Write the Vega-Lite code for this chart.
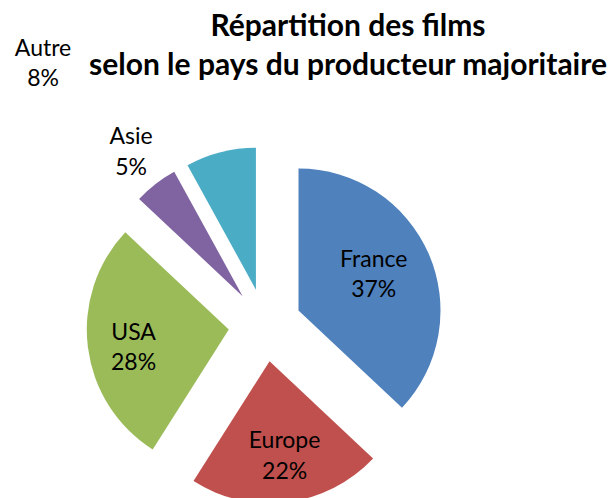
{
  "$schema": "https://vega.github.io/schema/vega-lite/v6.json",
  "width": 284,
  "height": 284,
  "autosize": {"type": "none"},
  "padding": {"left": 123, "top": 183, "right": 205, "bottom": 31},
  "background": "white",
  "config": {"view": {"stroke": null}},
  "title": {
    "text": ["Répartition des films", "selon le pays du producteur majoritaire"],
    "font": "Lato",
    "fontSize": 30,
    "fontWeight": "bold",
    "color": "#000000",
    "lineHeight": 39,
    "anchor": "middle",
    "frame": "group",
    "dx": 83,
    "baseline": "alphabetic",
    "offset": -67
  },
  "data": {
    "values": [
      {"pays": "France", "share": 37, "rang": 1},
      {"pays": "Europe", "share": 22, "rang": 2},
      {"pays": "USA", "share": 28, "rang": 3},
      {"pays": "Asie", "share": 5, "rang": 4},
      {"pays": "Autre", "share": 8, "rang": 5}
    ]
  },
  "encoding": {
    "theta": {"field": "share", "type": "quantitative", "stack": true},
    "order": {"field": "rang", "type": "quantitative"}
  },
  "layer": [
    {
      "mark": {
        "type": "arc",
        "xOffset": {"expr": "36.5*sin((scale('theta',datum.share_start)+scale('theta',datum.share_end))/2)"},
        "yOffset": {"expr": "-36.5*cos((scale('theta',datum.share_start)+scale('theta',datum.share_end))/2)"}
      },
      "encoding": {
        "color": {
          "field": "pays",
          "type": "nominal",
          "scale": {
            "domain": ["France", "Europe", "USA", "Asie", "Autre"],
            "range": ["#4F81BD", "#C0504D", "#9BBB59", "#8064A2", "#4BACC6"]
          },
          "legend": null
        }
      }
    },
    {
      "transform": [{"calculate": "datum.pays + '\\n' + datum.share + '%'", "as": "etiquette"}],
      "mark": {
        "type": "text",
        "font": "Lato",
        "fontSize": 23,
        "lineHeight": 30.5,
        "lineBreak": "\n",
        "color": "#000000",
        "align": "center",
        "baseline": "middle",
        "radius": {"expr": "datum.pays === 'France' ? 82 : datum.pays === 'Asie' ? 182 : 96"},
        "xOffset": {"expr": "36.5*sin((scale('theta',datum.share_start)+scale('theta',datum.share_end))/2)"},
        "yOffset": {"expr": "-36.5*cos((scale('theta',datum.share_start)+scale('theta',datum.share_end))/2)"},
        "dx": {"expr": "datum.pays === 'Autre' ? -189 : datum.pays === 'Europe' ? 3 : 0"},
        "dy": {"expr": "datum.pays === 'Autre' ? -148 : datum.pays === 'USA' ? -9 : datum.pays === 'France' ? -18 : -15"}
      },
      "encoding": {"text": {"field": "etiquette", "type": "nominal"}}
    }
  ]
}
